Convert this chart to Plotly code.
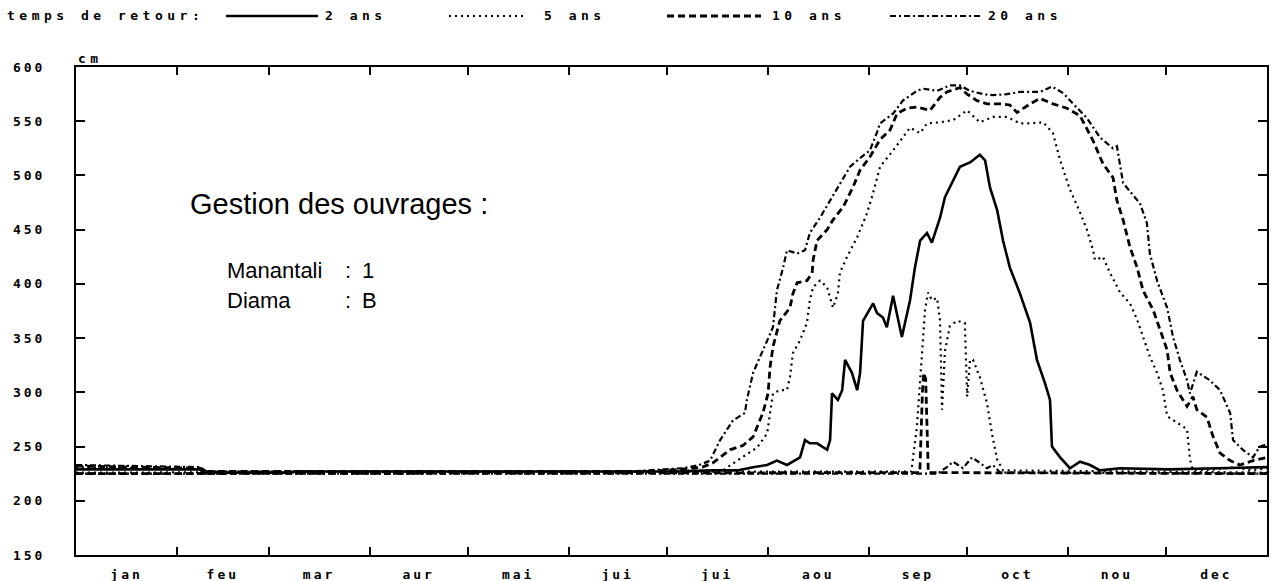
import plotly.graph_objects as go

# Day of year (0 = 1 January, 365 = end of December) and water level (cm)
mois_debut = [31, 59, 90, 120, 151, 181, 212, 243, 273, 304, 334]
mois_milieu = [15.5, 45, 74.5, 105, 135.5, 166, 196.5, 227.5, 258, 288.5, 319, 349.5]
mois_noms = ["jan", "feu", "mar", "aur", "mai", "jui", "jui", "aou", "sep", "oct", "nou", "dec"]
cotes_y = [150, 200, 250, 300, 350, 400, 450, 500, 550, 600]

# 2-year return period
jours_2ans = [0, 38, 39, 66, 67, 185, 195, 202.6, 207.5, 211.8, 214.8, 217.9, 221.9, 223.4, 224.9,
              227.1, 230.2, 231.1, 231.7, 233.5, 234.8, 235.7, 237.8, 239.4, 240.3, 240.9, 241.2,
              244.3, 245.5, 247.3, 248.5, 250.4, 252.5, 253.1, 255.6, 257.1, 258.7, 260.8, 262.3,
              264.8, 266.3, 267.8, 270.9, 274, 276.4, 277, 278.6, 280.1, 282.3, 284.1, 286.2,
              289.3, 292.4, 294.5, 297, 298.5, 299.1, 301.6, 304.6, 307.7, 310.8, 313.8, 320,
              335, 350, 365]
cm_2ans = [229, 229, 226, 226, 227, 227, 228, 228, 231, 233, 237, 233, 240, 256, 253,
           253, 247, 256, 299, 293, 302, 330, 318, 302, 318, 355, 366,
           382, 373, 369, 360, 389, 357, 351, 385, 415, 440, 447, 438,
           461, 480, 489, 508, 512, 517, 519, 514, 489, 468, 440, 415,
           391, 364, 330, 308, 293, 250, 240, 230, 236, 233, 228, 230,
           229, 230, 231]

# 5-year return period, wet year
jours_5ans_h = [0, 38, 40, 180, 190, 198.3, 202.6, 208.7, 211.8, 213.6, 215.7, 217.9, 218.8,
                219.7, 221.9, 224, 224.9, 225.9, 228, 230.2, 232, 233.5, 234.1, 236.3, 239.4,
                242.4, 244.3, 246.4, 250.4, 255.6, 258.7, 260.8, 264.8, 268.8, 273.1, 277, 281,
                285.3, 289.3, 292.4, 296.4, 299.4, 301.6, 304.6, 307.7, 309.8, 311.7, 312.3,
                314.7, 316.9, 320, 323, 325.2, 327, 329.1, 331.3, 333.1, 334.4, 337.4, 340.5,
                341.4, 342.3, 350, 355, 360, 365]
cm_5ans_h = [231, 229, 227, 227, 228, 228, 237, 249, 262, 299, 302, 302, 314,
             336, 348, 364, 385, 397, 403, 397, 378, 391, 410, 425, 443,
             465, 484, 508, 523, 544, 539, 548, 549, 551, 560, 549, 554,
             554, 548, 548, 549, 539, 514, 487, 466, 450, 431, 422,
             425, 410, 392, 382, 367, 351, 333, 318, 302, 278, 272, 266,
             238, 228, 229, 231, 228, 230]

# 10-year return period, wet year
jours_10ans_h = [0, 38, 40, 175, 185, 192, 195.2, 200.4, 204.4, 207.5, 210.5, 212.1, 212.7,
                 213.6, 215.7, 218.8, 219.7, 221, 224, 225.6, 225.9, 227.1, 230.2, 232, 235.1,
                 238.1, 240.3, 243.3, 246.4, 249.5, 251.6, 254.7, 257.7, 261.7, 264.8, 266.9,
                 270.9, 273.1, 276.1, 279.2, 283.2, 286.2, 288.4, 292.4, 295.4, 299.4, 303.7,
                 307.7, 311.7, 314.7, 317.8, 319, 320.9, 323, 325.2, 327, 330.1, 332.2, 334.4,
                 335.3, 337.4, 340.5, 342.3, 343.5, 346.6, 348.5, 350.6, 353.7, 356.7, 360.7, 365]
cm_10ans_h = [232, 230, 227, 227, 229, 231, 235, 247, 251, 259, 281, 299, 323,
              342, 366, 378, 391, 401, 403, 410, 422, 440, 450, 459, 471,
              489, 505, 517, 533, 542, 557, 562, 563, 560, 572, 577,
              581, 575, 569, 566, 566, 565, 558, 566, 571, 566, 562,
              555, 532, 511, 498, 477, 459, 434, 415, 394, 376, 357, 339,
              318, 302, 287, 296, 284, 277, 259, 244, 237, 233, 237, 240]

# 20-year return period, wet year
jours_20ans_h = [0, 20, 38, 40, 170, 180, 186, 191, 194.3, 197.4, 201.3, 205, 205.6, 207.5,
                 210.5, 213.6, 214.8, 216.7, 217.9, 221, 223.4, 224.9, 228, 231.1, 234.1, 237.2,
                 240.3, 243.3, 245.5, 246.4, 250.4, 253.4, 257.7, 259.6, 263.9, 267.8, 270.9,
                 274, 278, 281, 285.3, 289.3, 292.4, 295.4, 299.1, 302.5, 305.6, 309.8, 313.8,
                 317.8, 319, 320.9, 326.1, 328.2, 329.1, 331.3, 334.4, 336.2, 338.3, 340.5,
                 341.4, 343.5, 347.5, 350.6, 353.7, 354.6, 357.6, 360.7, 362.8, 365]
cm_20ans_h = [233, 232, 231, 227, 227, 229, 230, 233, 237, 256, 274, 281, 293, 318,
              339, 360, 394, 415, 431, 428, 431, 447, 461, 477, 493, 508,
              516, 523, 540, 548, 557, 569, 578, 580, 578, 583, 583,
              578, 575, 574, 575, 577, 577, 577, 582, 576, 566, 553, 535,
              525, 527, 493, 474, 456, 428, 403, 378, 351, 330, 311,
              299, 319, 311, 302, 281, 256, 247, 240, 250, 252]

# Dry years
jours_5ans_s = [0, 256, 257.7, 258.7, 259.3, 260.2, 261.1, 262.3, 263.9, 264.8, 265.4, 266.3,
                267.8, 270, 272.4, 273.1, 274, 274.9, 277, 279.2, 280.7, 282.3, 284.1, 365]
cm_5ans_s = [226, 227, 268, 314, 345, 376, 392, 385, 387, 366, 284, 338,
             361, 366, 364, 296, 330, 330, 314, 290, 262, 238, 228, 226]

jours_10ans_s = [0, 258.6, 259.4, 259.8, 260.4, 261.2, 365]
cm_10ans_s = [225, 226, 300, 318, 312, 226, 225]

jours_20ans_s = [0, 264, 266.9, 268.8, 271.8, 274.6, 277, 279.2, 281, 283.2, 365]
cm_20ans_s = [225, 225, 231, 236, 230, 240, 235, 230, 233, 226, 225]

# line styles per return period
STYLE = {
    "2 ans": dict(color="black", width=2.6, dash="solid"),
    "5 ans": dict(color="black", width=2.2, dash="2px,4px"),
    "10 ans": dict(color="black", width=2.8, dash="7px,4px"),
    "20 ans": dict(color="black", width=2.2, dash="6px,3px,2px,3px"),
}

MONO = dict(family="DejaVu Sans Mono", size=13, color="black", weight="bold")
SANS = dict(family="Liberation Sans, Arial", size=22, color="black")
SANS_TITRE = dict(family="Liberation Sans, Arial", size=29, color="black")

series = [
    ("2 ans", jours_2ans, cm_2ans),
    ("5 ans", jours_5ans_h, cm_5ans_h),
    ("10 ans", jours_10ans_h, cm_10ans_h),
    ("20 ans", jours_20ans_h, cm_20ans_h),
    ("5 ans", jours_5ans_s, cm_5ans_s),
    ("10 ans", jours_10ans_s, cm_10ans_s),
    ("20 ans", jours_20ans_s, cm_20ans_s),
]

fig = go.Figure()
for nom, x, y in series:
    fig.add_trace(go.Scatter(x=x, y=y, mode="lines", name=nom,
                             line=STYLE[nom], showlegend=False, hoverinfo="skip"))

# carrier trace for the month-name axis
fig.add_trace(go.Scatter(x=[], y=[], xaxis="x2", showlegend=False))

W, H = 1273, 581
L, R, T, B = 76, 6, 67, 26
pw, ph = W - L - R, H - T - B


def px_x(px):
    return (px - L) / pw


def px_y(py):
    return (H - B - py) / ph


fig.update_layout(
    width=W, height=H,
    margin=dict(l=L, r=R, t=T, b=B, autoexpand=False),
    paper_bgcolor="white", plot_bgcolor="white",
    showlegend=False,
    xaxis=dict(range=[0, 365], tickmode="array", tickvals=mois_debut,
               showticklabels=False, ticks="inside", ticklen=8, tickwidth=2,
               tickcolor="black", showline=True, linewidth=2, linecolor="black",
               mirror="ticks", showgrid=False, zeroline=False, automargin=False),
    xaxis2=dict(range=[0, 365], overlaying="x", anchor="y", side="bottom",
                tickmode="array", tickvals=mois_milieu, ticktext=mois_noms,
                ticks="", showline=False, showgrid=False, zeroline=False,
                tickfont=MONO, ticklabelstandoff=10, automargin=False),
    yaxis=dict(range=[150, 600], tickmode="array", tickvals=cotes_y,
               ticktext=[str(v) for v in cotes_y], ticks="inside", ticklen=9,
               tickwidth=2, tickcolor="black", showline=True, linewidth=2,
               linecolor="black", mirror="ticks", showgrid=False, zeroline=False,
               tickfont=MONO, ticklabelstandoff=26, automargin=False),
)

annotations = [
    dict(text="cm", x=px_x(77), y=px_y(59)),
    dict(text="temps de retour:", x=px_x(6), y=px_y(16)),
]
legende = [("2 ans", 226, 318, 324), ("5 ans", 449, 527, 543),
           ("10 ans", 667, 761, 771), ("20 ans", 890, 982, 987)]
shapes = []
for nom, x0, x1, xt in legende:
    st = STYLE[nom]
    shapes.append(dict(type="line", xref="paper", yref="paper",
                       x0=px_x(x0), x1=px_x(x1), y0=px_y(16), y1=px_y(16),
                       line=dict(color=st["color"], width=st["width"], dash=st["dash"])))
    annotations.append(dict(text=nom, x=px_x(xt), y=px_y(16)))

for a in annotations:
    a.update(xref="paper", yref="paper", xanchor="left", yanchor="middle", align="left",
             showarrow=False, font=MONO, borderpad=0)

texte = [
    ("Gestion des ouvrages :", 188, 204, SANS_TITRE),
    ("Manantali", 225, 270, SANS), (":", 343, 270, SANS), ("1", 360, 270, SANS),
    ("Diama", 225, 300, SANS), (":", 343, 300, SANS), ("B", 360, 300, SANS),
]
for t, x, y, f in texte:
    annotations.append(dict(text=t, x=px_x(x), y=px_y(y), xref="paper", yref="paper",
                            xanchor="left", yanchor="middle", align="left",
                            showarrow=False, font=f))

fig.update_layout(annotations=annotations, shapes=shapes)

# wide dot-matrix style spacing for the monospace labels
espacement = """
var gd = document.getElementById('{plot_id}');
gd.querySelectorAll('text').forEach(function (t) {
  var ff = t.style.fontFamily || '';
  if (ff.indexOf('Mono') >= 0) {
    t.style.letterSpacing = t.closest('.annotation') ? '4.5px' : '3px';
  }
});
"""

fig.write_html("out.html", post_script=espacement)
